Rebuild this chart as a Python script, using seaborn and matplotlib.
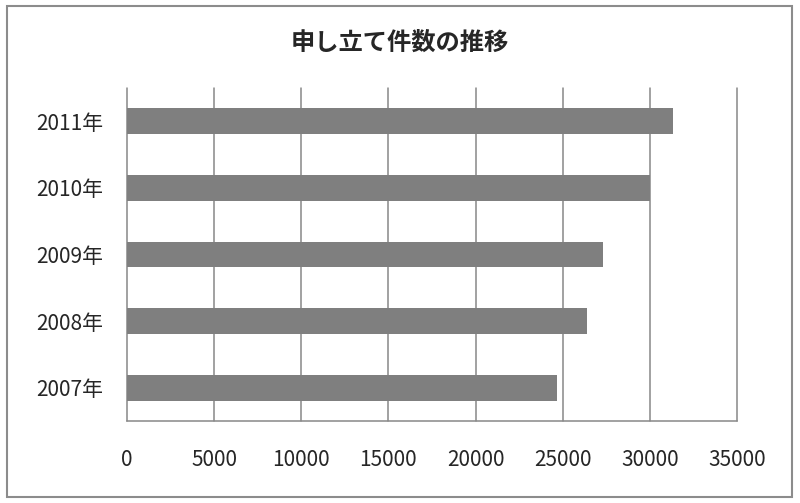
import matplotlib
matplotlib.use('Agg')
import matplotlib.pyplot as plt
import matplotlib.patches as mpatches
import seaborn as sns
import pandas as pd

# data
years = ['2011年', '2010年', '2009年', '2008年', '2007年']
counts = [31330, 30010, 27340, 26400, 24670]
xticks = [0, 5000, 10000, 15000, 20000, 25000, 30000, 35000]

df = pd.DataFrame({'year': years, 'count': counts})

sns.set_theme(style='white')
plt.rcParams['font.family'] = ['Noto Sans CJK JP', 'DejaVu Sans']

fig = plt.figure(figsize=(8, 5.03), dpi=100)
ax = fig.add_axes([127 / 800, 1 - 421 / 503, (737 - 127) / 800, (421 - 88) / 503])

sns.barplot(data=df, x='count', y='year', order=years, color='#7f7f7f',
            width=0.39, saturation=1, linewidth=0, ax=ax, zorder=3)

ax.set_xlim(0, 35000)
ax.set_xticks(xticks)
ax.set_xticklabels([str(t) for t in xticks], fontsize=15)
ax.tick_params(axis='y', labelsize=15, length=0, pad=17)
ax.tick_params(axis='x', length=0, pad=20)
ax.xaxis.grid(True, color='#888888', linewidth=1.1)
for gl in ax.get_xgridlines():
    gl.set_clip_on(False)
ax.set_axisbelow(True)
for s in ['top', 'right', 'left']:
    ax.spines[s].set_visible(False)
ax.spines['bottom'].set_color('#888888')
ax.spines['bottom'].set_linewidth(1.1)
ax.set_xlabel('')
ax.set_ylabel('')

fig.text(0.5, 1 - 43 / 503, '申し立て件数の推移', ha='center', va='center',
         fontsize=17.5, fontweight='bold')

# outer frame of the chart
frame = mpatches.Rectangle((7 / 800, 6 / 503), 785 / 800, 491 / 503,
                           transform=fig.transFigure, fill=False,
                           edgecolor='#8c8c8c', linewidth=1.5)
fig.patches.append(frame)

fig.savefig('out.png', dpi=100)
